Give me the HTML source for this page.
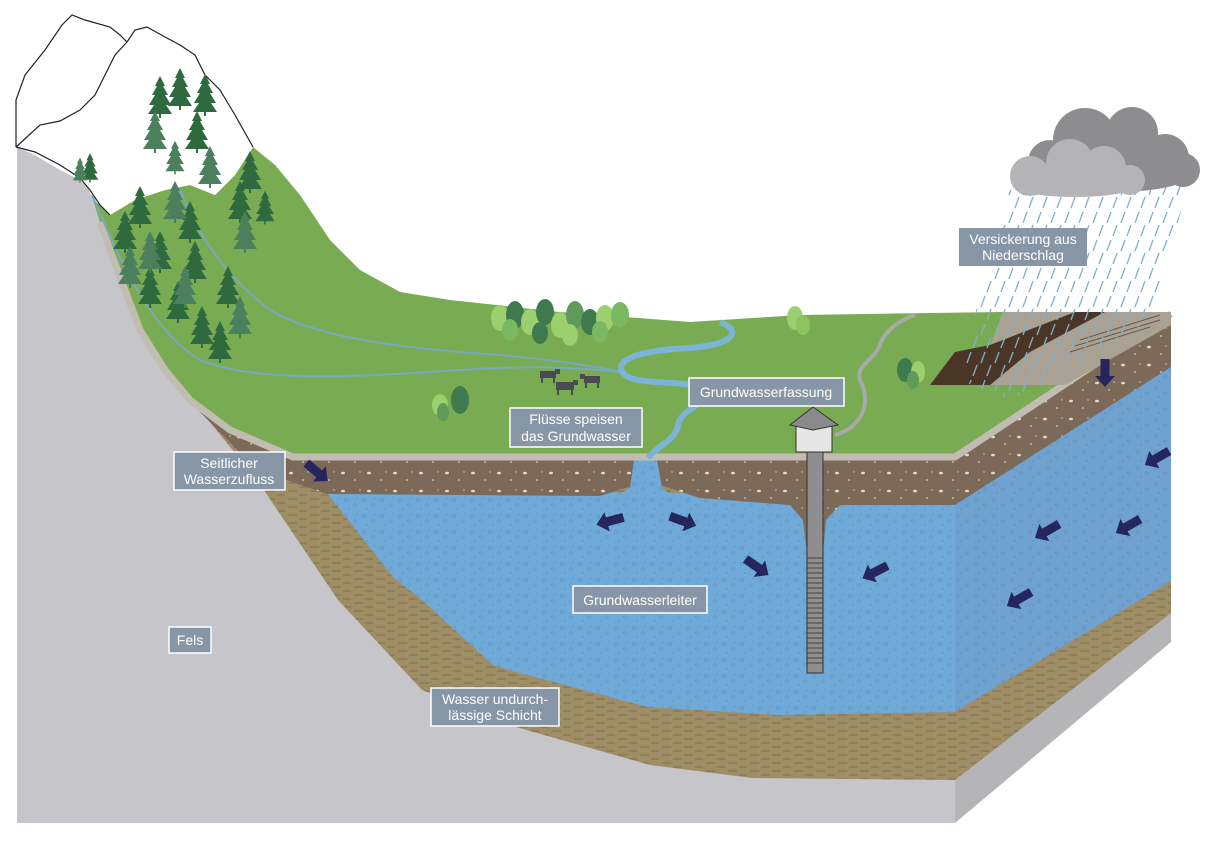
<!DOCTYPE html>
<html><head><meta charset="utf-8"><style>
html,body{margin:0;padding:0;background:#fff}
svg{display:block}
text{font-family:"Liberation Sans",Arial,sans-serif;font-size:14px;fill:#fff}
</style></head><body>
<svg width="1208" height="855" viewBox="0 0 1208 855" xmlns="http://www.w3.org/2000/svg">
<defs>
<pattern id="aq" width="18" height="16" patternUnits="userSpaceOnUse">
<rect width="18" height="16" fill="#6faad8"/>
<circle cx="4" cy="4" r="1.6" fill="none" stroke="#6396c2" stroke-width="0.7"/>
<circle cx="13" cy="9" r="1.3" fill="none" stroke="#6396c2" stroke-width="0.7"/>
<circle cx="7" cy="13" r="0.9" fill="#6795be"/>
<circle cx="15" cy="2" r="0.8" fill="#6795be"/>
</pattern>
<pattern id="aq2" width="18" height="16" patternUnits="userSpaceOnUse">
<rect width="18" height="16" fill="#70a2cf"/>
<circle cx="4" cy="4" r="1.6" fill="none" stroke="#5f8fbb" stroke-width="0.7"/>
<circle cx="13" cy="9" r="1.3" fill="none" stroke="#5f8fbb" stroke-width="0.7"/>
<circle cx="7" cy="13" r="0.9" fill="#628db5"/>
</pattern>
<pattern id="so" width="26" height="18" patternUnits="userSpaceOnUse">
<rect width="26" height="18" fill="#7d6957"/>
<ellipse cx="5" cy="5" rx="2" ry="1.3" fill="#e3d9c8"/>
<circle cx="17" cy="12" r="0.9" fill="#d9cfbd"/>
<circle cx="22" cy="4" r="0.7" fill="#d9cfbd"/>
</pattern>
<pattern id="im" width="22" height="8" patternUnits="userSpaceOnUse">
<rect width="22" height="8" fill="#9f8d66"/>
<line x1="2" y1="3" x2="11" y2="3" stroke="#7d6c4c" stroke-width="0.9"/>
<line x1="13" y1="7" x2="21" y2="7" stroke="#7d6c4c" stroke-width="0.9"/>
</pattern>
<pattern id="rain" width="14" height="28" patternUnits="userSpaceOnUse">
<line x1="11" y1="1" x2="7" y2="12" stroke="#7fb0cc" stroke-width="1.3"/>
<line x1="5" y1="16" x2="1" y2="27" stroke="#7fb0cc" stroke-width="1.3"/>
</pattern>
<g id="tr"><polygon points="0,-24 5,-14 3,-14 8,-5 5,-5 11,5 6,5 12,14 -12,14 -6,5 -11,5 -5,-5 -8,-5 -3,-14 -5,-14"/><rect x="-1" y="14" width="2" height="4"/></g>
<polygon id="ar" points="-14,-4.5 3,-4.5 3,-10 14,0 3,10 3,4.5 -14,4.5" fill="#26265e"/>
</defs>

<polygon points="17,147 40,152 65,165 85,180 93,200 100,220 110,250 125,290 140,330 165,370 190,400 293,460 955,460 955,823 17,823" fill="#c6c6ca"/>
<polygon points="955,823 1171,642 1171,600 955,760" fill="#b5b5b8"/>
<polygon points="175,380 200,410 257,480 338,600 422,690 516,727 650,765 752,778 955,780 955,460 293,460" fill="url(#im)"/>
<polygon points="955,780 1171,613 1171,560 955,700" fill="url(#im)"/>
<polygon points="327,493 393,577 422,600 493,665 516,672 647,707 778,715 955,712 955,495 327,490" fill="url(#aq)"/>
<polygon points="955,712 1171,581 1171,360 955,500" fill="url(#aq2)"/>
<polygon points="190,398 230,428 293,456 955,456 955,505 840,505 826,520 823,553 807,553 803,520 790,505 700,498 660,485 652,462 641,462 635,485 600,496 327,494 257,470 200,412" fill="url(#so)"/>
<polygon points="634,460 657,460 662,488 675,497 615,497 630,488" fill="url(#aq)"/>
<polygon points="955,456 1171,312 1171,367 955,505" fill="url(#so)"/>
<polygon points="93,200 100,205 110,215 135,200 165,190 190,185 215,195 235,175 253,147 275,165 300,195 330,240 360,270 400,292 450,300 560,312 690,322 800,315 1000,312 1171,312 955,455 293,455 230,428 190,398 165,368 140,328 125,288 110,250 100,222" fill="#79ab52"/>
<polyline points="100,222 110,250 125,290 140,330 165,370 190,400 230,430 293,457 955,457 1171,314" fill="none" stroke="#c2bdb2" stroke-width="7"/>
<polygon points="1003,312 1171,312 1171,325 1065,385 975,385" fill="#a9a294"/>
<polygon points="930,385 955,352 990,345 1075,312 1105,312 1030,352 990,385" fill="#4b3526"/>
<g stroke="#6b5646" stroke-width="1"><line x1="1080" y1="340" x2="1160" y2="315"/><line x1="1075" y1="346" x2="1160" y2="320"/><line x1="1070" y1="352" x2="1150" y2="327"/></g>
<polygon points="16,147 16,100 25,75 45,50 62,25 72,15 85,20 110,27 120,35 127,42 135,30 147,27 165,37 180,45 195,55 205,75 220,90 235,115 253,147 235,175 215,195 190,185 165,190 135,200 110,215 100,205 90,190 80,180 60,170 35,155" fill="#fff"/>
<polyline points="16,147 16,100 25,75 45,50 62,25 72,15 85,20 110,27 120,35 127,42 135,30 147,27 165,37 180,45 195,55 205,75 220,90 235,115 253,147" fill="none" stroke="#222" stroke-width="1.2"/>
<polyline points="16,147 35,152 60,165 80,178 90,190 100,205 110,215" fill="none" stroke="#222" stroke-width="1.2"/>
<polyline points="16,147 40,125 60,121 80,110 95,95 105,75 115,55 127,42" fill="none" stroke="#222" stroke-width="1.2"/>
<path d="M180,190 C200,240 230,280 270,310 C320,340 420,350 500,355 C560,360 600,368 625,372" fill="none" stroke="#79a9be" stroke-width="2"/>
<path d="M92,195 C120,260 150,330 200,360 C260,385 380,375 460,370 C520,366 560,366 620,372" fill="none" stroke="#79a9be" stroke-width="2"/>
<path d="M720,322 C745,332 730,345 690,348 C640,350 610,360 625,375 C640,387 700,378 705,392 C706,405 680,410 678,425 C676,440 658,445 648,458" fill="none" stroke="#7cb4d8" stroke-width="6"/>
<path d="M915,315 C900,320 885,330 880,345 C875,360 855,365 860,380 C868,395 866,410 858,420 C850,430 842,433 835,435" fill="none" stroke="#a9a9a9" stroke-width="4"/>
<g fill="#2f6a3f">
<use href="#tr" transform="translate(160,100)"/><use href="#tr" transform="translate(180,92)"/><use href="#tr" transform="translate(205,98)"/>
<use href="#tr" transform="translate(197,135)"/><use href="#tr" transform="translate(90,170) scale(0.7)"/>
<use href="#tr" transform="translate(250,175)"/><use href="#tr" transform="translate(240,205)"/>
<use href="#tr" transform="translate(140,210)"/><use href="#tr" transform="translate(125,235)"/>
<use href="#tr" transform="translate(190,225)"/><use href="#tr" transform="translate(160,255)"/>
<use href="#tr" transform="translate(150,290)"/><use href="#tr" transform="translate(195,265)"/>
<use href="#tr" transform="translate(178,305)"/><use href="#tr" transform="translate(228,290)"/>
<use href="#tr" transform="translate(202,330)"/><use href="#tr" transform="translate(220,345)"/>
<use href="#tr" transform="translate(265,210) scale(0.8)"/>
</g>
<g fill="#4c7f5e">
<use href="#tr" transform="translate(155,135)"/><use href="#tr" transform="translate(175,160) scale(0.8)"/>
<use href="#tr" transform="translate(210,170)"/><use href="#tr" transform="translate(80,172) scale(0.6)"/>
<use href="#tr" transform="translate(175,205)"/><use href="#tr" transform="translate(150,255)"/>
<use href="#tr" transform="translate(245,235)"/><use href="#tr" transform="translate(240,320)"/>
<use href="#tr" transform="translate(130,270)"/><use href="#tr" transform="translate(185,290)"/>
</g>
<g>
<ellipse cx="500" cy="318" rx="9" ry="13" fill="#9ccf6e"/><ellipse cx="515" cy="315" rx="9" ry="14" fill="#3f7a4e"/>
<ellipse cx="530" cy="322" rx="9" ry="13" fill="#9ccf6e"/><ellipse cx="545" cy="312" rx="9" ry="13" fill="#3f7a4e"/>
<ellipse cx="560" cy="325" rx="9" ry="13" fill="#9ccf6e"/><ellipse cx="575" cy="315" rx="9" ry="14" fill="#5e9a5a"/>
<ellipse cx="590" cy="322" rx="9" ry="13" fill="#3f7a4e"/><ellipse cx="605" cy="318" rx="9" ry="13" fill="#9ccf6e"/>
<ellipse cx="620" cy="315" rx="9" ry="13" fill="#7ab862"/><ellipse cx="510" cy="330" rx="8" ry="11" fill="#7ab862"/>
<ellipse cx="540" cy="333" rx="8" ry="11" fill="#3f7a4e"/><ellipse cx="570" cy="335" rx="8" ry="11" fill="#9ccf6e"/>
<ellipse cx="600" cy="332" rx="8" ry="11" fill="#7ab862"/>
<ellipse cx="440" cy="405" rx="8" ry="11" fill="#9ccf6e"/><ellipse cx="460" cy="400" rx="9" ry="14" fill="#3f7a4e"/><ellipse cx="443" cy="412" rx="6" ry="9" fill="#5e9a5a"/>
<ellipse cx="795" cy="318" rx="8" ry="12" fill="#9ccf6e"/><ellipse cx="803" cy="325" rx="7" ry="10" fill="#8cc460"/>
<ellipse cx="905" cy="370" rx="8" ry="12" fill="#3f7a4e"/><ellipse cx="918" cy="372" rx="7" ry="11" fill="#9ccf6e"/><ellipse cx="913" cy="380" rx="6" ry="9" fill="#5e9a5a"/>
</g>
<g fill="#4a4a50">
<rect x="540" y="371" width="16" height="7"/><rect x="541" y="378" width="2" height="5"/><rect x="553" y="378" width="2" height="5"/><rect x="555" y="369" width="5" height="5"/>
<rect x="556" y="382" width="18" height="8"/><rect x="557" y="390" width="2" height="5"/><rect x="571" y="390" width="2" height="5"/><rect x="573" y="380" width="5" height="5"/>
<rect x="584" y="376" width="16" height="7"/><rect x="585" y="383" width="2" height="5"/><rect x="597" y="383" width="2" height="5"/><rect x="580" y="374" width="5" height="5"/>
</g>
<rect x="807" y="450" width="16" height="223" fill="#8e8e90" stroke="#333" stroke-width="1"/>
<g stroke="#333" stroke-width="0.8">
<line x1="807" y1="558" x2="823" y2="558"/><line x1="807" y1="563" x2="823" y2="563"/><line x1="807" y1="568" x2="823" y2="568"/><line x1="807" y1="573" x2="823" y2="573"/><line x1="807" y1="578" x2="823" y2="578"/><line x1="807" y1="583" x2="823" y2="583"/><line x1="807" y1="588" x2="823" y2="588"/><line x1="807" y1="593" x2="823" y2="593"/><line x1="807" y1="598" x2="823" y2="598"/><line x1="807" y1="603" x2="823" y2="603"/><line x1="807" y1="608" x2="823" y2="608"/><line x1="807" y1="613" x2="823" y2="613"/><line x1="807" y1="618" x2="823" y2="618"/><line x1="807" y1="623" x2="823" y2="623"/><line x1="807" y1="628" x2="823" y2="628"/><line x1="807" y1="633" x2="823" y2="633"/><line x1="807" y1="638" x2="823" y2="638"/><line x1="807" y1="643" x2="823" y2="643"/><line x1="807" y1="648" x2="823" y2="648"/><line x1="807" y1="653" x2="823" y2="653"/><line x1="807" y1="658" x2="823" y2="658"/><line x1="807" y1="663" x2="823" y2="663"/>
</g>
<rect x="796" y="424" width="36" height="28" fill="#e6e6e6" stroke="#333"/>
<polygon points="790,425 813,407 838,425 813,430" fill="#8a8a8c" stroke="#333"/>
<polygon points="1010,190 1190,180 1150,320 1010,400 960,380 990,250" fill="url(#rain)"/>
<g fill="#8d8d90"><circle cx="1085" cy="140" r="32"/><circle cx="1132" cy="133" r="26"/><circle cx="1165" cy="158" r="24"/><circle cx="1183" cy="170" r="17"/><circle cx="1050" cy="162" r="22"/><ellipse cx="1115" cy="172" rx="80" ry="20"/></g>
<g fill="#b4b4b7"><circle cx="1030" cy="176" r="20"/><circle cx="1070" cy="163" r="24"/><circle cx="1104" cy="168" r="22"/><circle cx="1130" cy="180" r="15"/><ellipse cx="1075" cy="185" rx="62" ry="12"/></g>
<use href="#ar" transform="translate(317,472) rotate(40)"/>
<use href="#ar" transform="translate(610,521) rotate(165)"/>
<use href="#ar" transform="translate(683,521) rotate(20)"/>
<use href="#ar" transform="translate(757,567) rotate(35)"/>
<use href="#ar" transform="translate(875,572) rotate(153)"/>
<use href="#ar" transform="translate(1105,373) rotate(90)"/>
<use href="#ar" transform="translate(1157,458) rotate(150)"/>
<use href="#ar" transform="translate(1047,531) rotate(150)"/>
<use href="#ar" transform="translate(1128,526) rotate(150)"/>
<use href="#ar" transform="translate(1019,599) rotate(150)"/>
<g fill="#8796a6" stroke="#fff" stroke-width="1.5">
<rect x="959" y="228" width="128" height="38" stroke="none"/>
<rect x="689" y="378" width="155" height="28"/>
<rect x="510" y="408" width="132" height="39"/>
<rect x="174" y="452" width="111" height="38"/>
<rect x="573" y="586" width="134" height="27"/>
<rect x="169" y="627" width="42" height="26"/>
<rect x="431" y="688" width="128" height="38"/>
</g>
<g text-anchor="middle">
<text x="1023" y="244">Versickerung aus</text><text x="1023" y="260">Niederschlag</text>
<text x="766" y="397">Grundwasserfassung</text>
<text x="576" y="424">Flüsse speisen</text><text x="576" y="441">das Grundwasser</text>
<text x="229" y="468">Seitlicher</text><text x="229" y="484">Wasserzufluss</text>
<text x="640" y="605">Grundwasserleiter</text>
<text x="190" y="645">Fels</text>
<text x="495" y="704">Wasser undurch-</text><text x="495" y="720">lässige Schicht</text>
</g>
</svg>
</body></html>
